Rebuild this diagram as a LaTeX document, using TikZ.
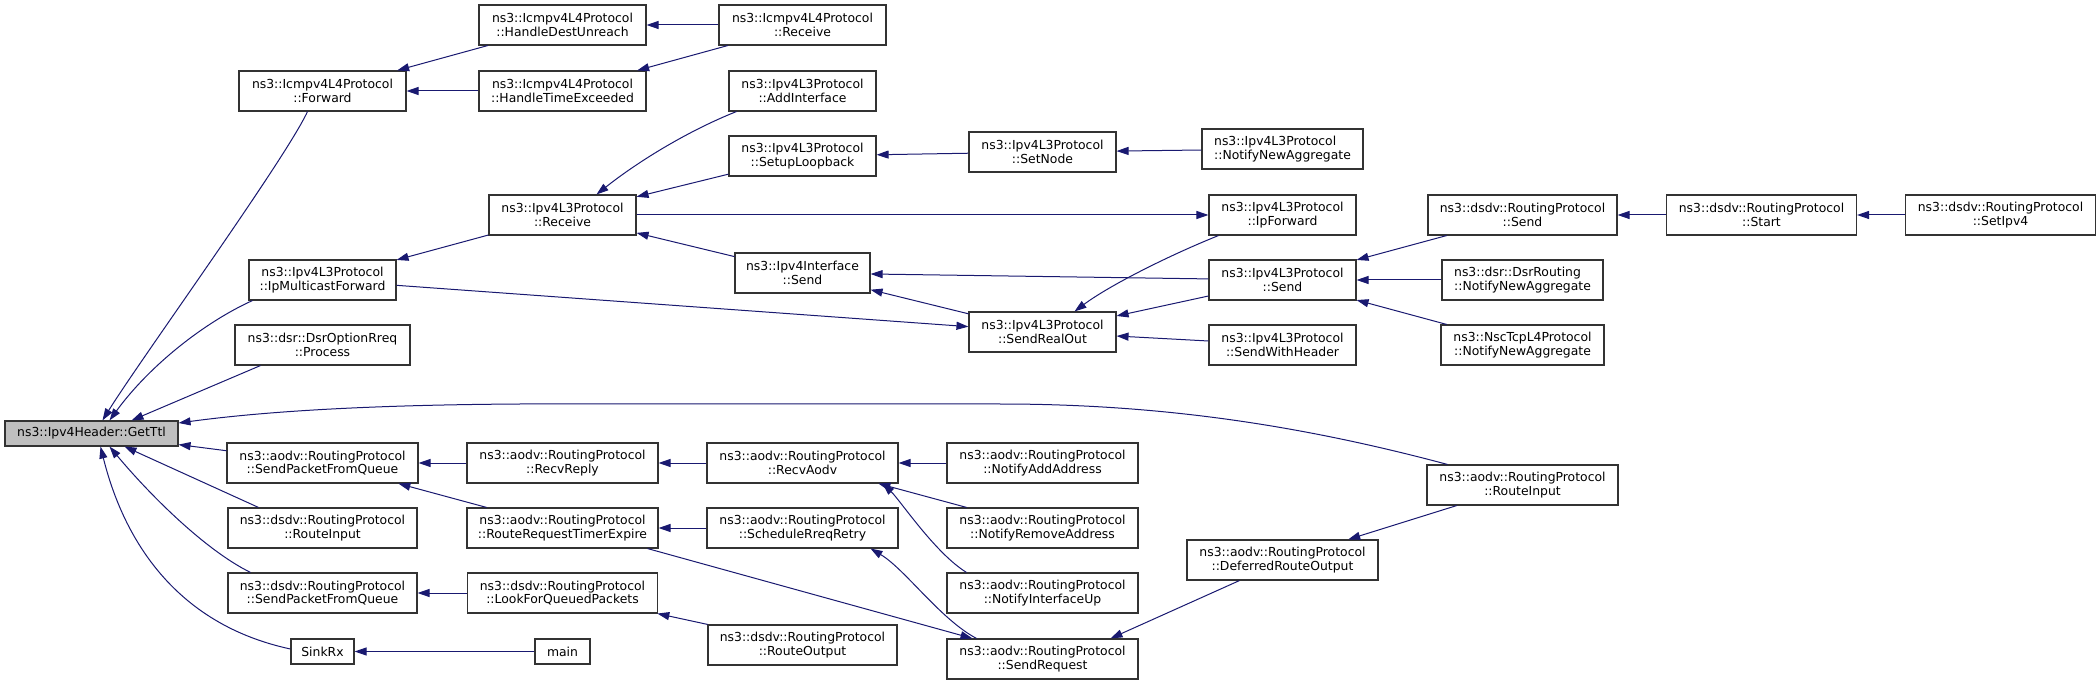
\documentclass[tikz,border=0pt]{standalone}
\usepackage{fontspec}
\setmainfont{DejaVu Sans}
\usetikzlibrary{arrows.meta}
\definecolor{edgeblue}{HTML}{191970}
\definecolor{boxgray}{HTML}{BFBFBF}
\definecolor{boxline}{HTML}{333333}
\begin{document}
\begin{tikzpicture}[x=1pt,y=-1pt,
  box/.style={draw=boxline, line width=1.1pt, fill=white, inner sep=0pt, minimum height=40pt,
    align=center, font=\fontsize{12.4}{13.6}\selectfont},
  sbox/.style={box, minimum height=25pt},
  edge/.style={draw=edgeblue, line width=1pt, -{Triangle[length=12pt,width=8pt]}}]
\useasboundingbox (0,0) rectangle (2099,684);

% column 1
\node[sbox, fill=boxgray, minimum width=173pt] (getttl) at (91.5,433.5) {ns3::Ipv4Header::GetTtl};
% column 2
\node[box, minimum width=167pt] (fwd) at (322.5,91) {ns3::Icmpv4L4Protocol\\::Forward};
\node[box, minimum width=147pt] (ipmf) at (322.5,280) {ns3::Ipv4L3Protocol\\::IpMulticastForward};
\node[box, minimum width=175pt] (dsrproc) at (322.5,345) {ns3::dsr::DsrOptionRreq\\::Process};
\node[box, minimum width=191pt] (aspfq) at (322.5,463) {ns3::aodv::RoutingProtocol\\::SendPacketFromQueue};
\node[box, minimum width=189pt] (dri) at (322.5,528) {ns3::dsdv::RoutingProtocol\\::RouteInput};
\node[box, minimum width=189pt] (dspfq) at (322.5,593) {ns3::dsdv::RoutingProtocol\\::SendPacketFromQueue};
\node[sbox, minimum width=63pt] (sinkrx) at (322.5,651.5) {SinkRx};
% column 3
\node[box, minimum width=167pt] (hdu) at (562.5,25) {ns3::Icmpv4L4Protocol\\::HandleDestUnreach};
\node[box, minimum width=167pt] (hte) at (562.5,91) {ns3::Icmpv4L4Protocol\\::HandleTimeExceeded};
\node[box, minimum width=147pt] (l3recv) at (562.5,215) {ns3::Ipv4L3Protocol\\::Receive};
\node[box, minimum width=191pt] (recvreply) at (562.5,463) {ns3::aodv::RoutingProtocol\\::RecvReply};
\node[box, minimum width=191pt] (rrte) at (562.5,528) {ns3::aodv::RoutingProtocol\\::RouteRequestTimerExpire};
\node[box, minimum width=190pt] (lfqp) at (562.5,593) {ns3::dsdv::RoutingProtocol\\::LookForQueuedPackets};
\node[sbox, minimum width=55pt] (main) at (562.5,651.5) {main};
% column 4
\node[box, minimum width=167pt] (icrecv) at (802.5,25) {ns3::Icmpv4L4Protocol\\::Receive};
\node[box, minimum width=147pt] (addif) at (802.5,91) {ns3::Ipv4L3Protocol\\::AddInterface};
\node[box, minimum width=147pt] (setuplb) at (802.5,156) {ns3::Ipv4L3Protocol\\::SetupLoopback};
\node[box, minimum width=135pt] (ifsend) at (802.5,273) {ns3::Ipv4Interface\\::Send};
\node[box, minimum width=191pt] (recvaodv) at (802.5,463) {ns3::aodv::RoutingProtocol\\::RecvAodv};
\node[box, minimum width=191pt] (srr) at (802.5,528) {ns3::aodv::RoutingProtocol\\::ScheduleRreqRetry};
\node[box, minimum width=189pt] (dro) at (802.5,645) {ns3::dsdv::RoutingProtocol\\::RouteOutput};
% column 5
\node[box, minimum width=147pt] (setnode) at (1042.5,152) {ns3::Ipv4L3Protocol\\::SetNode};
\node[box, minimum width=147pt] (sro) at (1042.5,332) {ns3::Ipv4L3Protocol\\::SendRealOut};
\node[box, minimum width=191pt] (naa) at (1042.5,463) {ns3::aodv::RoutingProtocol\\::NotifyAddAddress};
\node[box, minimum width=191pt] (nra) at (1042.5,528) {ns3::aodv::RoutingProtocol\\::NotifyRemoveAddress};
\node[box, minimum width=191pt] (niu) at (1042.5,593) {ns3::aodv::RoutingProtocol\\::NotifyInterfaceUp};
\node[box, minimum width=191pt] (sreq) at (1042.5,659) {ns3::aodv::RoutingProtocol\\::SendRequest};
% column 6
\node[box, minimum width=161pt, align=left] (l3nna) at (1282.5,149) {ns3::Ipv4L3Protocol\\::NotifyNewAggregate};
\node[box, minimum width=147pt] (ipfwd) at (1282.5,215) {ns3::Ipv4L3Protocol\\::IpForward};
\node[box, minimum width=147pt] (l3send) at (1282.5,280) {ns3::Ipv4L3Protocol\\::Send};
\node[box, minimum width=147pt] (swh) at (1282.5,345) {ns3::Ipv4L3Protocol\\::SendWithHeader};
\node[box, minimum width=191pt] (dfro) at (1282.5,560) {ns3::aodv::RoutingProtocol\\::DeferredRouteOutput};
% column 7
\node[box, minimum width=189pt] (dsend) at (1522.5,215) {ns3::dsdv::RoutingProtocol\\::Send};
\node[box, minimum width=161pt, align=left] (dsrnna) at (1522.5,280) {ns3::dsr::DsrRouting\\::NotifyNewAggregate};
\node[box, minimum width=163pt] (nscnna) at (1522.5,345) {ns3::NscTcpL4Protocol\\::NotifyNewAggregate};
\node[box, minimum width=191pt] (ari) at (1522.5,485) {ns3::aodv::RoutingProtocol\\::RouteInput};
% column 8, 9
\node[box, minimum width=190pt] (start) at (1761.5,215) {ns3::dsdv::RoutingProtocol\\::Start};
\node[box, minimum width=190pt] (setipv4) at (2000.5,215) {ns3::dsdv::RoutingProtocol\\::SetIpv4};

% edges into GetTtl
\draw[edge] ([xshift=-15pt]fwd.south) .. controls (285,160) and (140,360) .. ([xshift=11pt]getttl.north);
\draw[edge] ([xshift=-70pt]ipmf.south) .. controls (205,322) and (150,365) .. ([xshift=18pt]getttl.north);
\draw[edge] ([xshift=-62pt]dsrproc.south) -- ([xshift=40pt]getttl.north);
\draw[edge] ([xshift=-75pt]ari.north) .. controls (1300,425) and (1160,404) .. (1000,404)
  -- (520,404) .. controls (360,405) and (260,412) .. ([yshift=10.5pt]getttl.east);
\draw[edge] (aspfq) -- (getttl);
\draw[edge] ([xshift=-64pt]dri.north) -- ([xshift=33pt]getttl.south);
\draw[edge] ([xshift=-72pt]dspfq.north) .. controls (205,550) and (150,495) .. ([xshift=18pt]getttl.south);
\draw[edge] ([yshift=2.5pt]sinkrx.west) .. controls (165,622) and (120,525) .. ([xshift=9pt]getttl.south);

% upper part
\draw[edge] (hdu) -- (fwd);
\draw[edge] (hte) -- (fwd);
\draw[edge] (icrecv) -- (hdu);
\draw[edge] (icrecv) -- (hte);
\draw[edge] (l3recv) -- (ipmf);
\draw[edge] (ipmf) -- (sro);
\draw[edge] ([xshift=-66pt]addif.south) .. controls (690,130) and (640,160) .. ([xshift=34pt]l3recv.north);
\draw[edge] (setuplb) -- (l3recv);
\draw[edge] (l3recv) -- (ipfwd);
\draw[edge] (ifsend) -- (l3recv);
\draw[edge] (setnode) -- (setuplb);
\draw[edge] (l3nna) -- (setnode);
\draw[edge] (l3send) -- (ifsend);
\draw[edge] (sro) -- (ifsend);
\draw[edge] ([xshift=-64pt]ipfwd.south) .. controls (1170,255) and (1110,285) .. ([xshift=32pt]sro.north);
\draw[edge] (l3send) -- (sro);
\draw[edge] (swh) -- (sro);
\draw[edge] (dsend) -- (l3send);
\draw[edge] (dsrnna) -- (l3send);
\draw[edge] (nscnna) -- (l3send);
\draw[edge] (start) -- (dsend);
\draw[edge] (setipv4) -- (start);

% lower part
\draw[edge] (recvreply) -- (aspfq);
\draw[edge] (rrte) -- (aspfq);
\draw[edge] (recvaodv) -- (recvreply);
\draw[edge] (srr) -- (rrte);
\draw[edge] ([xshift=85pt]rrte.south) -- ([xshift=-70pt]sreq.north);
\draw[edge] (naa) -- (recvaodv);
\draw[edge] (nra) -- (recvaodv);
\draw[edge] ([xshift=-76pt]niu.north) .. controls (935,553) and (900,500) .. ([xshift=80pt]recvaodv.south);
\draw[edge] ([xshift=-66pt]sreq.north) .. controls (940,619) and (905,569) .. ([xshift=68pt]srr.south);
\draw[edge] ([xshift=-43pt]dfro.south) -- ([xshift=68pt]sreq.north);
\draw[edge] (ari) -- (dfro);
\draw[edge] (dro) -- (lfqp);
\draw[edge] (lfqp) -- (dspfq);
\draw[edge] (main) -- (sinkrx);
\end{tikzpicture}
\end{document}
